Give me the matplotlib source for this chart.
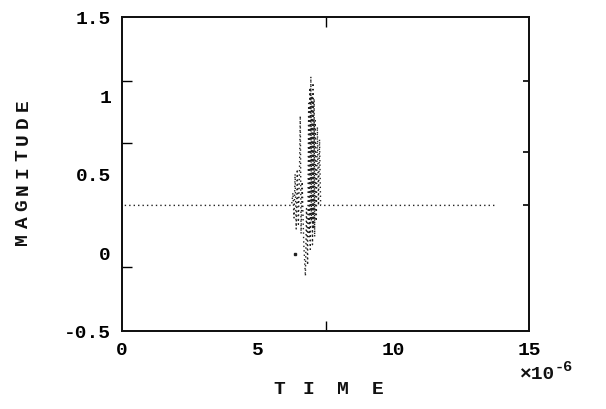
#!/usr/bin/env python3
"""
Scanned-style plot: pulse magnitude vs. time, dotted trace.
Output: out.png
"""
import matplotlib
matplotlib.use("Agg")
import matplotlib.pyplot as plt

# trace, time in microseconds
T_US = [0.10, 6.25, 6.30, 6.34, 6.38, 6.42, 6.46, 6.50, 6.54, 6.57,
        6.60, 6.64, 6.70, 6.76, 6.80, 6.84, 6.88, 6.90, 6.92, 6.94,
        6.96, 6.98, 7.00, 7.02, 7.04, 7.06, 7.08, 7.10, 7.12, 7.16,
        7.20, 7.24, 7.28, 7.32, 13.80]
MAG = [0.30, 0.30, 0.38, 0.22, 0.50, 0.15, 0.53, 0.18, 0.50, 0.87,
       0.12, 0.45, 0.05, -0.15, 0.28, -0.08, 0.95, 0.10, 1.05, 0.02,
       1.12, 0.20, 1.00, 0.05, 1.08, 0.15, 0.98, 0.10, 0.84, 0.20,
       0.80, 0.30, 0.72, 0.30, 0.30]
# stray sample below the burst
STRAY_T_US = [6.38]
STRAY_MAG = [-0.01]

YTICKS = [-0.5, 0, 0.5, 1, 1.5]
YTICKLABELS = ["-0.5", "0", "0.5", "1", "1.5"]
XTICKS_US = [0, 5, 10, 15]
XTICKLABELS = ["0", "5", "10", "15"]

FONT = "Liberation Mono"
INK = "#222222"

fig = plt.figure(figsize=(6.06, 4.10), dpi=100)
ax = fig.add_axes([122 / 606, 1 - 332 / 410, 407 / 606, 314 / 410])

ts = [t * 1e-6 for t in T_US]
ax.plot(ts, MAG, color=INK, lw=1.0, ls=(0, (1, 2.2)))
ax.plot([t * 1e-6 for t in STRAY_T_US], STRAY_MAG, "s", color=INK, ms=2)

ax.set_xlim(0, 15e-6)
ax.set_ylim(-0.5, 1.5)
ax.set_xticks([x * 1e-6 for x in XTICKS_US])
ax.set_xticklabels(XTICKLABELS)
ax.set_yticks(YTICKS)
ax.set_yticklabels(YTICKLABELS)
ax.tick_params(which="major", length=0, labelsize=14, pad=8)
ax.tick_params(axis="x", which="major", pad=7)
for lab in ax.get_xticklabels() + ax.get_yticklabels():
    lab.set_fontfamily(FONT)
    lab.set_fontweight("bold")

# odd little tick marks of the original
ax.set_yticks([1.09, 0.70, -0.09], minor=True)
ax.set_xticks([7.5e-6], minor=True)
ax.tick_params(which="minor", direction="in", length=7, width=1.0,
               top=True, bottom=True, left=True, right=False)
rax = ax.twinx()
rax.set_ylim(-0.5, 1.5)
rax.set_yticks([1.09, 0.64, 0.30])
rax.tick_params(direction="in", length=4, width=1.2, labelright=False)
for a in (ax, rax):
    for s in a.spines.values():
        s.set_linewidth(1.3)
        s.set_color("#111111")

# axis titles, letter by letter to mimic the spaced plotter lettering
for i, ch in enumerate("MAGNITUDE"):
    fig.text(23 / 606, 1 - (239 - i * 16.7) / 410, ch, rotation=90,
             ha="center", va="center", fontsize=14, fontweight="bold",
             family=FONT, color="#111111")
for ch, x in zip("TIME", [279, 308, 343, 378]):
    fig.text(x / 606, 1 - 390 / 410, ch, ha="center", va="center",
             fontsize=14, fontweight="bold", family=FONT, color="#111111")
fig.text(519 / 606, 1 - 375 / 410, "\u00d710", ha="left", va="center",
         fontsize=14, family=FONT, fontweight="bold", color="#111111")
fig.text(555 / 606, 1 - 367 / 410, "-6", ha="left", va="center",
         fontsize=11, family=FONT, fontweight="bold", color="#111111")

fig.savefig("out.png", dpi=100)
plt.close(fig)
